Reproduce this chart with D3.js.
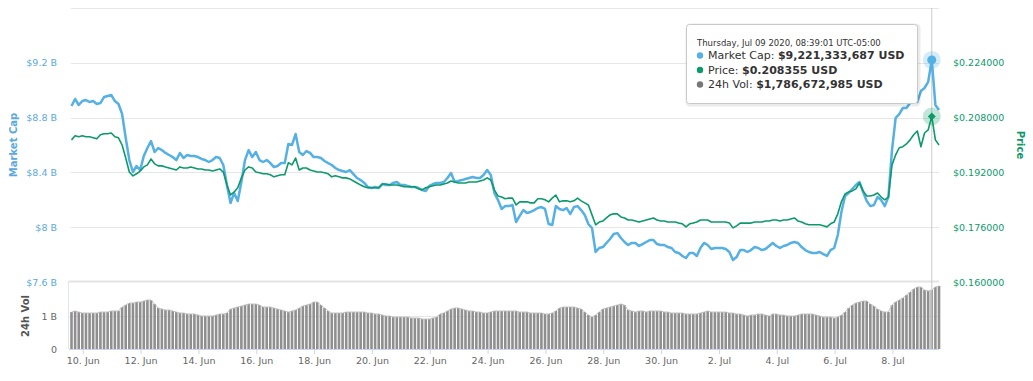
<!DOCTYPE html>
<html>
<head>
<meta charset="utf-8">
<script src="https://cdnjs.cloudflare.com/ajax/libs/d3/7.8.5/d3.min.js"></script>
<style>
body { margin: 0; background: #fff; }
text { font-family: "DejaVu Sans", sans-serif; }
</style>
</head>
<body>
<div id="chart"></div>
<script>
// One reading every 3 hours, starting Jun 9 14:39
var startTime = Date.UTC(2020, 5, 9, 14, 39);
var stepHours = 3;

// Market cap, billions USD
var marketCap = [
    8.885, 8.936, 8.892, 8.921, 8.928, 8.914, 8.921, 8.899,
    8.906, 8.950, 8.958, 8.965, 8.921, 8.899, 8.826, 8.651,
    8.490, 8.403, 8.447, 8.417, 8.520, 8.578, 8.629, 8.549,
    8.578, 8.563, 8.542, 8.527, 8.512, 8.490, 8.542, 8.505,
    8.527, 8.520, 8.520, 8.512, 8.498, 8.490, 8.476, 8.490,
    8.512, 8.505, 8.454, 8.308, 8.177, 8.250, 8.191, 8.330,
    8.490, 8.563, 8.512, 8.549, 8.490, 8.476, 8.490, 8.468,
    8.439, 8.447, 8.468, 8.468, 8.607, 8.600, 8.680, 8.549,
    8.527, 8.556, 8.542, 8.512, 8.512, 8.505, 8.483, 8.468,
    8.454, 8.432, 8.417, 8.410, 8.403, 8.417, 8.388, 8.359,
    8.344, 8.323, 8.293, 8.286, 8.293, 8.286, 8.315, 8.308,
    8.308, 8.323, 8.330, 8.308, 8.308, 8.301, 8.293, 8.293,
    8.286, 8.271, 8.264, 8.301, 8.315, 8.323, 8.323, 8.330,
    8.359, 8.396, 8.330, 8.337, 8.344, 8.352, 8.359, 8.366,
    8.359, 8.359, 8.381, 8.417, 8.381, 8.250, 8.198, 8.133,
    8.154, 8.154, 8.162, 8.038, 8.082, 8.125, 8.104, 8.111,
    8.125, 8.140, 8.147, 8.133, 8.023, 8.016, 8.154, 8.133,
    8.125, 8.140, 8.096, 8.147, 8.154, 8.125, 8.089, 8.023,
    7.994, 7.819, 7.848, 7.855, 7.885, 7.914, 7.950, 7.957,
    7.921, 7.892, 7.870, 7.885, 7.885, 7.863, 7.877, 7.892,
    7.906, 7.906, 7.877, 7.870, 7.870, 7.855, 7.848, 7.819,
    7.812, 7.790, 7.775, 7.812, 7.812, 7.790, 7.848, 7.885,
    7.870, 7.841, 7.848, 7.848, 7.848, 7.841, 7.819, 7.760,
    7.782, 7.833, 7.833, 7.819, 7.833, 7.855, 7.848, 7.833,
    7.841, 7.863, 7.885, 7.863, 7.848, 7.863, 7.870, 7.885,
    7.892, 7.885, 7.855, 7.833, 7.819, 7.812, 7.812, 7.819,
    7.804, 7.790, 7.833, 7.848, 7.943, 8.111, 8.228, 8.250,
    8.279, 8.308, 8.330, 8.257, 8.191, 8.154, 8.162, 8.220,
    8.198, 8.154, 8.220, 8.563, 8.797, 8.826, 8.870, 8.870,
    8.906, 8.936, 8.914, 8.994, 9.016, 9.060, 9.2213, 8.892,
    8.856
];

// Price, USD
var price = [
    0.2015, 0.2027, 0.2024, 0.2027, 0.2024, 0.2024, 0.2021, 0.2018,
    0.2030, 0.2033, 0.2033, 0.2035, 0.2024, 0.2021, 0.2000, 0.1962,
    0.1921, 0.1910, 0.1916, 0.1924, 0.1936, 0.1942, 0.1959, 0.1945,
    0.1939, 0.1939, 0.1936, 0.1933, 0.1930, 0.1927, 0.1936, 0.1933,
    0.1933, 0.1936, 0.1933, 0.1930, 0.1930, 0.1927, 0.1927, 0.1924,
    0.1927, 0.1930, 0.1921, 0.1883, 0.1854, 0.1863, 0.1875, 0.1904,
    0.1927, 0.1936, 0.1933, 0.1921, 0.1919, 0.1916, 0.1916, 0.1913,
    0.1907, 0.1910, 0.1913, 0.1913, 0.1948, 0.1942, 0.1962, 0.1927,
    0.1933, 0.1933, 0.1927, 0.1924, 0.1921, 0.1921, 0.1919, 0.1916,
    0.1907, 0.1910, 0.1907, 0.1904, 0.1904, 0.1901, 0.1895, 0.1889,
    0.1883, 0.1878, 0.1875, 0.1875, 0.1875, 0.1875, 0.1886, 0.1886,
    0.1883, 0.1883, 0.1883, 0.1881, 0.1878, 0.1878, 0.1878, 0.1878,
    0.1872, 0.1869, 0.1875, 0.1878, 0.1881, 0.1883, 0.1883, 0.1886,
    0.1889, 0.1895, 0.1892, 0.1889, 0.1889, 0.1889, 0.1892, 0.1892,
    0.1892, 0.1895, 0.1898, 0.1904, 0.1898, 0.1869, 0.1851, 0.1848,
    0.1843, 0.1845, 0.1845, 0.1825, 0.1834, 0.1834, 0.1834, 0.1831,
    0.1831, 0.1843, 0.1843, 0.1840, 0.1834, 0.1845, 0.1854, 0.1834,
    0.1837, 0.1837, 0.1834, 0.1837, 0.1845, 0.1837, 0.1831, 0.1825,
    0.1796, 0.1767, 0.1775, 0.1778, 0.1787, 0.1796, 0.1799, 0.1799,
    0.1790, 0.1787, 0.1781, 0.1781, 0.1778, 0.1775, 0.1778, 0.1781,
    0.1784, 0.1787, 0.1781, 0.1778, 0.1778, 0.1775, 0.1775, 0.1775,
    0.1772, 0.1770, 0.1761, 0.1770, 0.1772, 0.1775, 0.1781, 0.1781,
    0.1781, 0.1775, 0.1775, 0.1775, 0.1775, 0.1775, 0.1772, 0.1758,
    0.1764, 0.1772, 0.1772, 0.1772, 0.1772, 0.1775, 0.1775, 0.1775,
    0.1778, 0.1778, 0.1781, 0.1781, 0.1778, 0.1781, 0.1781, 0.1784,
    0.1787, 0.1778, 0.1775, 0.1770, 0.1767, 0.1767, 0.1767, 0.1767,
    0.1764, 0.1761, 0.1770, 0.1775, 0.1799, 0.1834, 0.1857, 0.1863,
    0.1866, 0.1872, 0.1889, 0.1866, 0.1851, 0.1851, 0.1854, 0.1860,
    0.1848, 0.1840, 0.1848, 0.1942, 0.1971, 0.1992, 0.1995, 0.2003,
    0.2015, 0.2030, 0.2041, 0.1995, 0.2035, 0.2044, 0.208355, 0.2015,
    0.2000
];

// 24h volume, billions USD
var volume = [
    1.121, 1.152, 1.121, 1.091, 1.091, 1.091, 1.091, 1.091,
    1.121, 1.121, 1.121, 1.152, 1.152, 1.152, 1.273, 1.333,
    1.394, 1.394, 1.424, 1.424, 1.455, 1.485, 1.485, 1.364,
    1.242, 1.212, 1.182, 1.182, 1.152, 1.121, 1.091, 1.091,
    1.061, 1.061, 1.061, 1.030, 1.000, 1.000, 1.000, 1.000,
    1.030, 1.061, 1.061, 1.091, 1.212, 1.242, 1.273, 1.303,
    1.333, 1.364, 1.364, 1.364, 1.333, 1.273, 1.273, 1.273,
    1.242, 1.212, 1.182, 1.152, 1.121, 1.152, 1.182, 1.242,
    1.303, 1.333, 1.364, 1.424, 1.424, 1.333, 1.242, 1.152,
    1.091, 1.091, 1.091, 1.091, 1.121, 1.121, 1.121, 1.121,
    1.121, 1.121, 1.091, 1.091, 1.061, 1.061, 1.030, 1.000,
    1.000, 0.970, 0.970, 0.970, 0.970, 0.970, 0.939, 0.939,
    0.939, 0.909, 0.909, 0.909, 0.939, 0.970, 1.061, 1.091,
    1.152, 1.212, 1.242, 1.242, 1.212, 1.182, 1.152, 1.152,
    1.121, 1.121, 1.091, 1.091, 1.121, 1.152, 1.152, 1.152,
    1.152, 1.152, 1.152, 1.152, 1.121, 1.121, 1.121, 1.091,
    1.091, 1.091, 1.091, 1.061, 1.061, 1.091, 1.152, 1.242,
    1.273, 1.273, 1.273, 1.273, 1.242, 1.212, 1.121, 1.030,
    0.970, 1.030, 1.121, 1.212, 1.242, 1.273, 1.303, 1.333,
    1.364, 1.333, 1.182, 1.152, 1.121, 1.152, 1.152, 1.121,
    1.152, 1.152, 1.152, 1.152, 1.121, 1.121, 1.091, 1.091,
    1.091, 1.091, 1.061, 1.061, 1.061, 1.061, 1.091, 1.121,
    1.152, 1.121, 1.121, 1.121, 1.121, 1.121, 1.091, 1.091,
    1.061, 1.061, 1.030, 1.000, 1.030, 1.030, 1.061, 1.061,
    1.030, 1.000, 1.061, 1.061, 1.030, 1.030, 1.000, 1.000,
    1.000, 1.030, 1.061, 1.061, 1.061, 1.061, 1.030, 1.000,
    0.970, 0.970, 0.970, 0.939, 0.970, 1.030, 1.121, 1.242,
    1.333, 1.394, 1.424, 1.455, 1.455, 1.364, 1.303, 1.212,
    1.152, 1.121, 1.121, 1.333, 1.424, 1.485, 1.545, 1.636,
    1.727, 1.818, 1.879, 1.879, 1.788, 1.758, 1.787, 1.879,
    1.909
];

// Axis ticks
var capTicks = [7.6, 8, 8.4, 8.8, 9.2];
var capLabels = ["$7.6 B", "$8 B", "$8.4 B", "$8.8 B", "$9.2 B"];
var capGrid = [8, 8.4, 8.8, 9.2, 9.6];
var priceTicks = [0.160, 0.176, 0.192, 0.208, 0.224];
var volTicks = [0, 1];
var volLabels = ["0", "1 B"];
var dayTicks = ["2020-06-10", "2020-06-12", "2020-06-14", "2020-06-16", "2020-06-18",
    "2020-06-20", "2020-06-22", "2020-06-24", "2020-06-26", "2020-06-28",
    "2020-06-30", "2020-07-02", "2020-07-04", "2020-07-06", "2020-07-08"];

// Hovered point shown in the tooltip
var tipIndex = 238;
var tipDate = "Thursday, Jul 09 2020, 08:39:01 UTC-05:00";
var tipRows = [
    {name: "Market Cap: ", value: "$9,221,333,687 USD", color: "#55b0e4"},
    {name: "Price: ", value: "$0.208355 USD", color: "#0c9a6b"},
    {name: "24h Vol: ", value: "$1,786,672,985 USD", color: "#777777"}
];

var blue = "#55b0e4",
    green = "#0c9a6b";

function timeAt(i) {
    return new Date(startTime + i * stepHours * 3600 * 1000);
}

var svg = d3.select("#chart")
    .append("svg")
        .attr("width", 1033)
        .attr("height", 381);

var x = d3.scaleUtc()
    .domain([timeAt(0), timeAt(marketCap.length - 1)])
    .range([71.5, 939]);

var yCap = d3.scaleLinear().domain([7.6, 9.6]).range([282, 8]);
var yPrice = d3.scaleLinear().domain([0.16, 0.24]).range([282, 8]);
var yVol = d3.scaleLinear().domain([0, 2]).range([349, 283]);

// Grid lines
svg.append("g")
    .selectAll("line")
    .data(capGrid)
    .join("line")
        .attr("x1", 71)
        .attr("x2", 939)
        .attr("y1", d => Math.round(yCap(d)) + 0.5)
        .attr("y2", d => Math.round(yCap(d)) + 0.5)
        .attr("stroke", "#e6e6e6");

// pane divider at top of the volume pane
svg.append("line")
    .attr("x1", 69).attr("x2", 939)
    .attr("y1", 281.5).attr("y2", 281.5)
    .attr("stroke", "#e3e3e3")
    .attr("stroke-width", 2);

svg.append("line")
    .attr("x1", 69).attr("x2", 939)
    .attr("y1", Math.round(yVol(1)) + 0.5).attr("y2", Math.round(yVol(1)) + 0.5)
    .attr("stroke", "#e6e6e6");

svg.append("line")
    .attr("x1", 68.5).attr("x2", 68.5)
    .attr("y1", 281).attr("y2", 349)
    .attr("stroke", "#dfe5ee");

// Volume bars
svg.append("g")
    .selectAll("rect")
    .data(volume)
    .join("rect")
        .attr("x", (d, i) => x(timeAt(i)) - 1.3)
        .attr("y", d => yVol(d))
        .attr("width", 2.6)
        .attr("height", d => yVol(0) - yVol(d))
        .attr("fill", "#8f8f8f");

svg.append("path")
    .datum(volume)
    .attr("fill", "none")
    .attr("stroke", "#c4c4c4")
    .attr("stroke-width", 1)
    .attr("d", d3.line().x((d, i) => x(timeAt(i))).y(d => yVol(d)));

// Crosshair
var tipX = x(timeAt(tipIndex));
svg.append("line")
    .attr("x1", tipX).attr("x2", tipX)
    .attr("y1", 8).attr("y2", 349)
    .attr("stroke", "#cccccc");

// Lines
svg.append("path")
    .datum(marketCap)
    .attr("fill", "none")
    .attr("stroke", blue)
    .attr("stroke-width", 2.5)
    .attr("stroke-linejoin", "round")
    .attr("d", d3.line().x((d, i) => x(timeAt(i))).y(d => yCap(d)));

svg.append("path")
    .datum(price)
    .attr("fill", "none")
    .attr("stroke", green)
    .attr("stroke-width", 1.6)
    .attr("stroke-linejoin", "round")
    .attr("d", d3.line().x((d, i) => x(timeAt(i))).y(d => yPrice(d)));

// Axes
var leftAxis = svg.append("g")
    .attr("transform", "translate(60,0)")
    .call(d3.axisLeft(yCap).tickValues(capTicks).tickFormat((d, i) => capLabels[i]).tickSize(0).tickPadding(3));
leftAxis.select(".domain").remove();
leftAxis.selectAll("text").attr("fill", "#5aa8df").style("font-size", "9.5px").style("font-family", "DejaVu Sans");

var rightAxis = svg.append("g")
    .attr("transform", "translate(950,0)")
    .call(d3.axisRight(yPrice).tickValues(priceTicks).tickFormat(d => "$" + d3.format(".6f")(d)).tickSize(0).tickPadding(3));
rightAxis.select(".domain").remove();
rightAxis.selectAll("text").attr("fill", green).style("font-size", "9.5px").style("font-family", "DejaVu Sans");

var volAxis = svg.append("g")
    .attr("transform", "translate(60,0)")
    .call(d3.axisLeft(yVol).tickValues(volTicks).tickFormat((d, i) => volLabels[i]).tickSize(0).tickPadding(3));
volAxis.select(".domain").remove();
volAxis.selectAll("text").attr("fill", "#666").style("font-size", "9.5px").style("font-family", "DejaVu Sans");

var parseDay = d3.utcParse("%Y-%m-%d");
var bottomAxis = svg.append("g")
    .attr("transform", "translate(0,349)")
    .call(d3.axisBottom(x).tickValues(dayTicks.map(parseDay)).tickFormat(d3.utcFormat("%-d. %b")).tickSize(5).tickSizeOuter(0));
bottomAxis.select(".domain").attr("stroke", "#ccd6eb").attr("d", "M69,0.5H939");
bottomAxis.selectAll(".tick line").attr("stroke", "#ccd6eb");
bottomAxis.selectAll("text").attr("fill", "#666").style("font-size", "9.5px").style("font-family", "DejaVu Sans");

// Axis titles
svg.append("text")
    .attr("transform", "translate(13,145) rotate(-90)")
    .attr("text-anchor", "middle")
    .attr("dominant-baseline", "central")
    .style("font-size", "10px")
    .style("font-weight", "bold")
    .attr("fill", "#5aa8df")
    .text("Market Cap");

svg.append("text")
    .attr("transform", "translate(25,316) rotate(-90)")
    .attr("text-anchor", "middle")
    .attr("dominant-baseline", "central")
    .style("font-size", "10px")
    .style("font-weight", "bold")
    .attr("fill", "#555")
    .text("24h Vol");

svg.append("text")
    .attr("transform", "translate(1020,145) rotate(90)")
    .attr("text-anchor", "middle")
    .attr("dominant-baseline", "central")
    .style("font-size", "10px")
    .style("font-weight", "bold")
    .attr("fill", green)
    .text("Price");

// Hover markers
var capY = yCap(marketCap[tipIndex]);
svg.append("circle").attr("cx", tipX).attr("cy", capY).attr("r", 9).attr("fill", blue).attr("opacity", 0.25);
svg.append("circle").attr("cx", tipX).attr("cy", capY).attr("r", 4.5).attr("fill", blue);

var priceY = yPrice(price[tipIndex]);
svg.append("circle").attr("cx", tipX).attr("cy", priceY).attr("r", 9).attr("fill", green).attr("opacity", 0.25);
svg.append("path")
    .attr("d", d3.symbol().type(d3.symbolDiamond2).size(40)())
    .attr("transform", "translate(" + tipX + "," + priceY + ")")
    .attr("fill", green);

// Tooltip
var tip = svg.append("g").attr("transform", "translate(686,24)");
tip.append("rect").attr("x", 1).attr("y", 1).attr("width", 232).attr("height", 80).attr("rx", 3)
    .attr("fill", "none").attr("stroke", "rgba(0,0,0,0.08)").attr("stroke-width", 3);
tip.append("rect").attr("x", 0.5).attr("y", 0.5).attr("width", 231).attr("height", 79).attr("rx", 3)
    .attr("fill", "rgba(255,255,255,0.96)").attr("stroke", "#c9c9c9");
tip.append("text")
    .attr("x", 11).attr("y", 22)
    .style("font-size", "8.5px")
    .attr("fill", "#333")
    .text(tipDate);

tipRows.forEach(function(row, i) {
    var ty = 35 + i * 14.5;
    tip.append("circle").attr("cx", 14).attr("cy", ty - 3.5).attr("r", 3.2).attr("fill", row.color);
    var t = tip.append("text").attr("x", 22).attr("y", ty).style("font-size", "11px").attr("fill", "#333");
    t.append("tspan").text(row.name);
    t.append("tspan").style("font-weight", "bold").text(row.value);
});
</script>
</body>
</html>
